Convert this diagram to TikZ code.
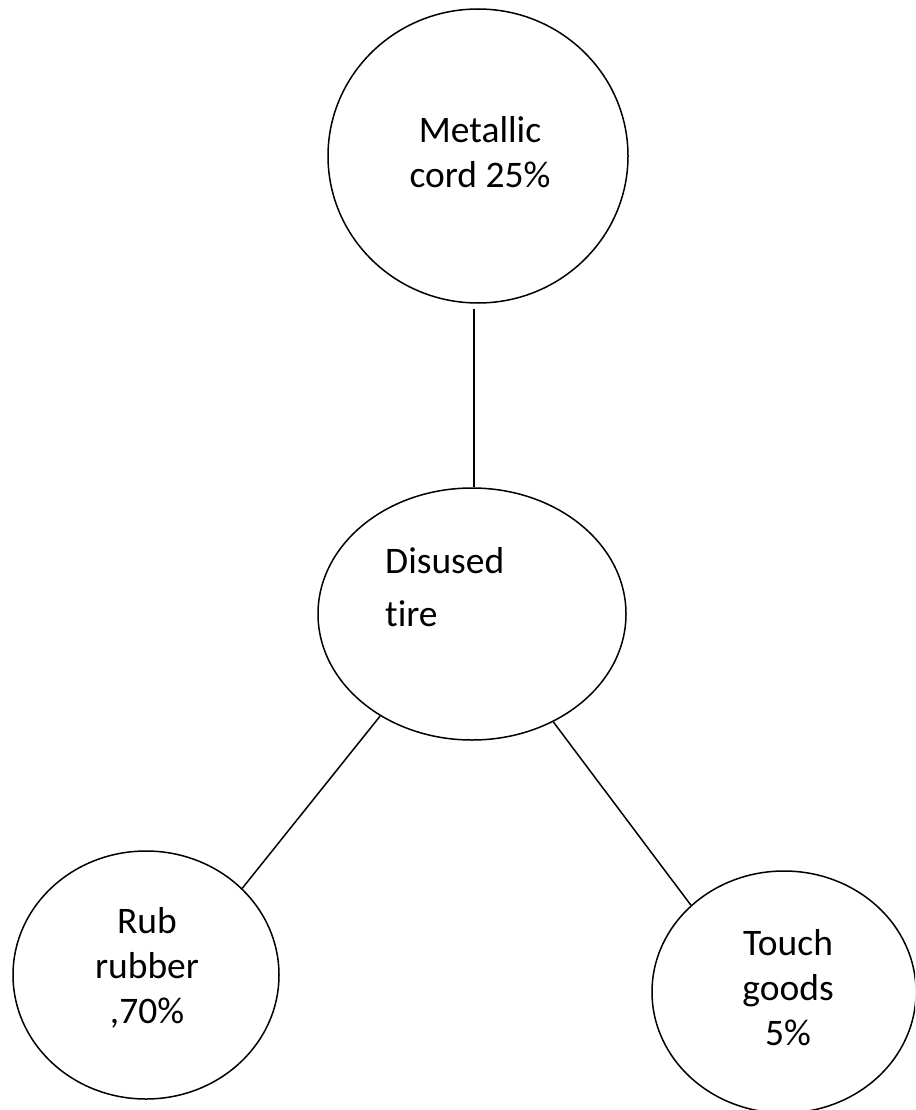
\documentclass[tikz,border=0pt]{standalone}
\usepackage{fontspec}
\setmainfont[Ligatures=NoCommon]{Carlito}
\usetikzlibrary{shapes.geometric}
\begin{document}
\begin{tikzpicture}[x=1pt,y=-1pt,
  blob/.style={draw,ellipse,line width=1.5pt,inner sep=0pt},
  lbl/.style={font=\fontsize{37.5}{45}\selectfont,inner sep=0pt},
  link/.style={line width=1.5pt}]
\useasboundingbox (0,0) rectangle (915,1110);
\clip (0,0) rectangle (915,1110);
\node[blob,minimum width=300pt,minimum height=294pt] (met) at (478,156) {};
\node[blob,minimum width=308pt,minimum height=252pt] (dis) at (472,614) {};
\node[blob,minimum width=266pt,minimum height=248pt] (rub) at (146,975) {};
\node[blob,minimum width=264pt,minimum height=242pt] (tou) at (784,992) {};
\coordinate (axis) at (474,0);
\node[lbl,align=center] (metT) at (480,152) {Metallic\\cord 25\%};
\node[lbl,align=left,anchor=west,font=\fontsize{37.5}{53}\selectfont] (disT) at (385,587) {Disused\\tire};
\node[lbl,align=center] (rubT) at (147,968) {Rub\\rubber\\,70\%};
\node[lbl,align=center] (touT) at (788,988) {Touch\\goods\\5\%};
\draw[link] (met.south -| axis) ++(0,5) -- (dis.north -| axis);
\draw[link] (dis.228.6) -- (rub.42.8);
\draw[link] (dis.307.2) -- (tou.137.2);
\end{tikzpicture}
\end{document}
